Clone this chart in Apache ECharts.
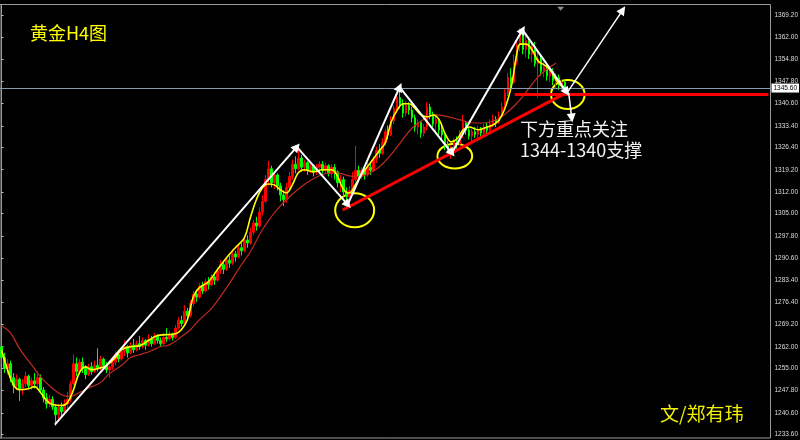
<!DOCTYPE html>
<html><head><meta charset="utf-8">
<script src="https://cdn.jsdelivr.net/npm/echarts@6/dist/echarts.min.js"></script>
<style>html,body{margin:0;padding:0;background:#000;}#c{width:800px;height:440px;}</style>
</head><body><div id="c"></div>
<script>
// [open, close, low, high]
const candles = [
[1262.0,1258.5,1257.0,1263.5],[1258.5,1255.0,1253.5,1260.0],[1255.0,1256.5,1253.0,1258.0],[1256.5,1252.0,1250.5,1257.5],
[1252.0,1249.5,1247.0,1253.5],[1249.5,1251.5,1248.0,1253.0],[1251.5,1248.5,1244.5,1252.0],[1248.5,1250.0,1246.5,1251.5],
[1250.0,1252.5,1249.0,1254.0],[1252.5,1249.5,1248.5,1253.0],[1249.5,1251.0,1248.0,1252.0],[1251.0,1250.0,1248.5,1253.5],
[1250.0,1252.0,1249.0,1254.0],[1252.0,1248.0,1247.0,1253.0],[1248.0,1245.5,1244.0,1249.0],[1245.5,1243.5,1242.0,1247.0],
[1243.5,1245.0,1242.5,1246.5],[1245.0,1242.5,1241.5,1246.0],[1242.5,1240.0,1236.5,1243.5],[1240.0,1242.5,1238.5,1243.5],
[1242.5,1241.0,1239.5,1244.0],[1241.0,1243.5,1240.0,1245.0],[1243.5,1245.0,1242.0,1247.5],[1245.0,1250.0,1244.0,1251.0],
[1250.0,1256.5,1249.5,1259.5],[1256.5,1254.0,1252.5,1258.5],[1254.0,1257.0,1253.0,1258.0],[1257.0,1255.0,1253.5,1258.5],
[1255.0,1253.0,1251.5,1256.0],[1253.0,1255.5,1252.5,1256.5],[1255.5,1254.0,1253.0,1257.0],[1254.0,1256.0,1253.5,1257.5],
[1256.0,1255.0,1254.0,1261.5],[1255.0,1258.0,1254.5,1259.0],[1258.0,1256.0,1254.5,1258.5],[1256.0,1254.5,1253.5,1257.0],
[1254.5,1255.5,1252.0,1256.0],[1255.5,1257.0,1254.5,1258.0],[1257.0,1259.5,1256.0,1260.5],[1259.5,1258.0,1257.0,1261.0],
[1258.0,1260.5,1257.5,1261.5],[1260.5,1262.0,1259.0,1264.0],[1262.0,1260.0,1258.5,1262.5],[1260.0,1262.5,1259.5,1263.5],
[1262.5,1261.0,1260.0,1264.5],[1261.0,1263.0,1260.5,1264.0],[1263.0,1262.0,1261.0,1265.5],[1262.0,1264.0,1261.5,1265.0],
[1264.0,1262.5,1261.0,1264.5],[1262.5,1264.5,1262.0,1266.0],[1264.5,1263.0,1262.0,1265.5],[1263.0,1265.5,1262.5,1266.5],
[1265.5,1264.0,1263.0,1266.0],[1264.0,1263.0,1262.0,1265.0],[1263.0,1265.0,1262.5,1266.5],[1265.0,1264.5,1263.5,1268.0],
[1264.5,1266.0,1264.0,1267.0],[1266.0,1265.0,1264.0,1266.5],[1265.0,1268.0,1264.5,1269.0],[1268.0,1270.5,1267.5,1271.5],
[1270.5,1269.5,1268.5,1272.0],[1269.5,1273.5,1269.0,1275.5],[1273.5,1272.0,1270.5,1274.5],[1272.0,1276.0,1271.5,1277.0],
[1276.0,1279.0,1275.0,1280.0],[1279.0,1278.0,1276.5,1280.5],[1278.0,1281.5,1277.5,1282.5],[1281.5,1280.0,1279.0,1283.0],
[1280.0,1283.0,1279.5,1284.0],[1283.0,1282.0,1280.5,1284.5],[1282.0,1284.5,1281.5,1285.5],[1284.5,1283.5,1282.0,1286.0],
[1283.5,1286.5,1283.0,1287.5],[1286.5,1288.5,1285.5,1290.0],[1288.5,1287.0,1285.5,1289.5],[1287.0,1290.0,1286.5,1291.0],
[1290.0,1289.0,1287.5,1291.5],[1289.0,1292.0,1288.5,1293.5],[1292.0,1291.0,1289.5,1293.0],[1291.0,1294.0,1290.5,1295.0],
[1294.0,1293.0,1291.5,1295.5],[1293.0,1296.5,1292.5,1297.5],[1296.5,1295.5,1294.0,1298.0],[1295.5,1299.0,1295.0,1300.5],
[1299.0,1302.0,1298.0,1303.0],[1302.0,1301.0,1299.5,1304.0],[1301.0,1305.5,1300.5,1307.0],[1305.5,1309.0,1304.5,1311.0],
[1309.0,1316.0,1308.5,1317.5],[1316.0,1319.5,1314.0,1322.0],[1319.5,1315.0,1313.5,1320.5],[1315.0,1317.5,1313.0,1318.5],
[1317.5,1314.0,1312.5,1318.0],[1314.0,1311.0,1309.0,1315.0],[1311.0,1309.5,1307.5,1312.5],[1309.5,1313.5,1308.5,1315.0],
[1313.5,1317.0,1312.5,1318.5],[1317.0,1321.0,1316.0,1322.5],[1321.0,1319.5,1318.0,1323.5],[1319.5,1323.0,1319.0,1326.5],
[1323.0,1320.0,1318.5,1324.0],[1320.0,1321.5,1318.5,1322.5],[1321.5,1319.0,1317.5,1322.0],[1319.0,1320.5,1318.0,1321.5],
[1320.5,1318.5,1317.0,1321.0],[1318.5,1320.0,1317.5,1321.0],[1320.0,1321.0,1318.5,1322.0],[1321.0,1319.0,1318.0,1322.0],
[1319.0,1320.5,1318.0,1321.5],[1320.5,1318.0,1317.0,1321.0],[1318.0,1320.0,1316.5,1321.0],[1320.0,1318.5,1316.0,1321.0],
[1318.5,1315.0,1313.5,1319.0],[1315.0,1316.0,1312.0,1317.5],[1316.0,1312.0,1310.5,1317.0],[1312.0,1310.5,1307.0,1313.5],
[1310.5,1312.5,1309.0,1314.0],[1312.5,1316.0,1311.5,1318.5],[1316.0,1319.0,1315.0,1327.0],[1319.0,1317.0,1315.5,1320.5],
[1317.0,1319.0,1316.0,1320.0],[1319.0,1317.5,1316.0,1320.5],[1317.5,1320.0,1317.0,1321.5],[1320.0,1319.0,1317.5,1321.5],
[1319.0,1322.5,1318.5,1323.5],[1322.5,1325.5,1321.5,1326.5],[1325.5,1324.5,1323.0,1327.5],[1324.5,1328.0,1324.0,1329.5],
[1328.0,1331.5,1327.0,1332.5],[1331.5,1330.5,1329.0,1333.5],[1330.5,1335.0,1330.0,1336.5],[1335.0,1339.0,1334.0,1340.0],
[1339.0,1342.5,1337.5,1344.0],[1342.5,1340.5,1339.0,1345.8],[1340.5,1337.5,1336.0,1342.0],[1337.5,1340.0,1336.5,1341.5],
[1340.0,1338.5,1337.0,1341.0],[1338.5,1336.0,1334.5,1339.5],[1336.0,1333.0,1331.5,1337.0],[1333.0,1334.5,1330.5,1335.5],
[1334.5,1331.0,1329.5,1335.0],[1331.0,1333.0,1330.0,1334.0],[1333.0,1339.5,1332.0,1341.0],[1339.5,1337.0,1335.5,1340.5],
[1337.0,1334.0,1333.0,1338.0],[1334.0,1335.5,1331.5,1336.5],[1335.5,1332.0,1330.5,1336.0],[1332.0,1330.5,1329.0,1333.5],
[1330.5,1327.0,1325.5,1331.0],[1327.0,1324.5,1323.5,1328.5],[1324.5,1326.0,1322.7,1327.0],[1326.0,1328.5,1325.0,1329.5],
[1328.5,1327.5,1326.0,1330.0],[1327.5,1330.5,1327.0,1332.0],[1330.5,1334.5,1329.5,1337.0],[1334.5,1332.0,1330.5,1335.0],
[1332.0,1330.0,1329.0,1333.0],[1330.0,1331.5,1328.5,1332.5],[1331.5,1330.5,1329.5,1333.0],[1330.5,1332.0,1329.0,1333.5],
[1332.0,1331.0,1329.5,1333.0],[1331.0,1333.0,1330.0,1334.0],[1333.0,1332.0,1330.5,1334.5],[1332.0,1334.0,1331.5,1335.5],
[1334.0,1335.5,1333.0,1337.0],[1335.5,1334.5,1333.0,1336.5],[1334.5,1336.5,1334.0,1338.0],[1336.5,1339.5,1336.0,1341.0],
[1339.5,1344.0,1339.0,1345.5],[1344.0,1349.0,1343.0,1350.5],[1349.0,1347.5,1345.5,1352.0],[1347.5,1354.0,1347.0,1356.5],
[1354.0,1359.5,1353.0,1361.0],[1359.5,1363.0,1357.5,1365.0],[1363.0,1358.0,1356.5,1364.5],[1358.0,1361.0,1355.5,1362.5],
[1361.0,1356.5,1355.0,1362.0],[1356.5,1359.0,1354.0,1360.0],[1359.0,1353.5,1352.5,1360.5],[1353.5,1355.0,1342.5,1357.0],
[1355.0,1351.0,1349.5,1356.5],[1351.0,1352.5,1349.0,1354.0],[1352.5,1349.5,1348.0,1353.5],[1349.5,1351.0,1347.5,1352.5],
[1351.0,1348.0,1346.5,1352.0],[1348.0,1349.0,1345.5,1350.5],[1349.0,1346.5,1345.0,1350.0],[1346.5,1347.5,1345.0,1348.5],
[1347.5,1345.6,1344.5,1348.0]
];
// fast moving average: [bar index, price]
const maFast = [
[0,1261.0],[2,1254.6],[4,1249.7],[6,1248.1],[9,1248.4],[11,1249.1],[13,1247.2],[15,1244.6],[17,1243.3],[20,1243.0],
[22,1243.9],[24,1248.1],[26,1253.6],[28,1255.5],[30,1254.6],[32,1254.9],[35,1255.9],[38,1258.5],[40,1261.0],[43,1262.0],
[46,1262.3],[49,1264.0],[52,1265.6],[55,1265.9],[58,1266.2],[60,1267.5],[62,1270.7],[64,1278.2],[66,1281.1],[69,1283.0],
[72,1286.9],[75,1290.7],[78,1294.0],[81,1297.2],[83,1303.7],[85,1309.5],[87,1313.3],[89,1314.6],[91,1314.3],[93,1312.7],
[95,1311.7],[97,1314.3],[99,1318.2],[101,1319.2],[104,1318.5],[107,1319.2],[110,1319.2],[112,1317.2],[114,1313.0],[116,1311.7],
[118,1314.3],[120,1317.5],[123,1321.4],[126,1325.3],[128,1327.9],[130,1334.7],[132,1338.5],[134,1340.5],[136,1340.5],[138,1338.9],
[140,1336.9],[142,1336.3],[144,1336.9],[146,1335.3],[148,1330.8],[150,1328.2],[152,1329.2],[154,1332.1],[156,1333.0],[159,1332.1],
[162,1333.0],[164,1333.7],[166,1335.3],[168,1339.2],[170,1345.9],[171,1351.4],[172,1357.3],[173,1359.8],[175,1359.8],[177,1357.9],
[179,1354.3],[181,1353.1],[183,1351.4],[185,1348.2],[187,1346.0],[188,1345.0]
];
// slow moving average: [bar index, price]
const maSlow = [
[0,1268.8],[3,1266.5],[6,1261.4],[10,1256.2],[13,1252.3],[16,1249.4],[20,1246.5],[23,1245.9],[26,1247.2],[30,1249.1],
[33,1250.4],[36,1253.3],[40,1255.9],[43,1258.5],[46,1259.4],[50,1260.7],[53,1262.0],[56,1262.6],[60,1265.2],[63,1267.5],
[66,1270.7],[70,1274.3],[73,1278.2],[76,1282.4],[80,1288.5],[83,1292.7],[87,1299.8],[90,1304.0],[93,1307.5],[96,1310.4],
[100,1313.7],[104,1316.3],[108,1317.9],[112,1318.2],[116,1317.2],[119,1316.9],[123,1318.2],[126,1320.1],[129,1323.0],[133,1327.9],
[137,1332.7],[141,1335.6],[145,1336.9],[149,1336.3],[153,1335.3],[157,1334.3],[161,1334.3],[165,1335.3],[168,1337.2],[171,1339.8],
[174,1343.0],[177,1346.9],[180,1350.2],[183,1352.4],[185,1353.7]
];
const yTickLabels = [1369.2,1362.0,1354.8,1347.8,1340.6,1333.4,1326.4,1319.2,1312.0,1305.0,1297.8,1290.6,1283.4,1276.4,1269.2,1262.0,1255.0,1247.8,1240.6,1233.6];
const lastPrice = 1345.6;
const supportLine = [[171.2,1343.7],[255.8,1343.7]];
const trendLine = [[113.8,1306.2],[188.8,1344.3]];
const arrows = [
[[17.8,1236.8],[98.5,1326.6]],
[[98.5,1326.6],[115.5,1307.9]],
[[115.5,1307.9],[132.8,1345.9]],
[[132.8,1345.9],[150.2,1324.6]],
[[150.2,1324.6],[173.8,1364.4]],
[[173.8,1364.4],[188.5,1344.3]],
[[188.8,1344.3],[207.2,1370.8]],
[[189.2,1344.0],[190.2,1335.9]]
];
// [center index, center price, radius in bars, radius in price]
const circles = [[117.8,1306.1,6.5,5.5],[151.2,1323.6,5.8,4.0],[188.9,1343.5,5.6,4.7]];
const shiftMarker = [186.5,1371.2];
const titleText = '黄金H4图';
const noteLine1 = '下方重点关注';
const noteLine2 = '1344-1340支撑';
const authorText = '文/郑有玮';
const slotCount = 257;

const categories = [];
for (let i = 0; i < slotCount; i++) categories.push(String(i));

const chart = echarts.init(document.getElementById('c'), null, {renderer: 'canvas'});
const cjk = '"Noto Sans CJK SC", "Noto Sans", sans-serif';
chart.setOption({
  backgroundColor: '#000000',
  animation: false,
  grid: {left: 0, right: 29.5, top: 4.5, bottom: 2, show: true, borderColor: '#9a9a9a', borderWidth: 1, outerBoundsMode: 'none', containLabel: false},
  xAxis: [
    {type: 'category', data: categories, boundaryGap: true, show: false},
    {type: 'value', min: -0.5, max: slotCount - 0.5, show: false}
  ],
  yAxis: {
    type: 'value', position: 'right', min: 1232.5, max: 1372.6, scale: true,
    splitLine: {show: false},
    axisLine: {show: true, lineStyle: {color: '#9a9a9a', width: 1}},
    axisTick: {show: true, length: 2, customValues: yTickLabels, lineStyle: {color: '#c8c8c8'}},
    axisLabel: {customValues: yTickLabels, formatter: v => Number(v).toFixed(2), color: '#dcdcdc', fontSize: 6.5, margin: 4, fontFamily: '"Liberation Sans", Arial, sans-serif'}
  },
  graphic: [
    {type: 'text', left: 30, top: 24, style: {text: titleText, fill: '#ffff00', font: '18px ' + cjk}},
    {type: 'text', left: 520, top: 120, style: {text: noteLine1, fill: '#f2f2f2', font: '18px ' + cjk}},
    {type: 'text', left: 520, top: 141, style: {text: noteLine2, fill: '#f2f2f2', font: '18px ' + cjk}},
    {type: 'text', left: 660, top: 404, style: {text: authorText, fill: '#f0f000', font: '19px ' + cjk}}
  ],
  series: [
    {
      type: 'candlestick', data: candles, barWidth: 2,
      itemStyle: {color: '#ff0000', color0: '#00ff00', borderColor: '#ff0000', borderColor0: '#00ff00', borderWidth: 1},
      silent: true,
      markLine: {
        silent: true, symbol: 'none',
        lineStyle: {color: '#8a9aaa', width: 1, type: 'solid'},
        label: {show: true, position: 'end', distance: 1, formatter: p => Number(p.value).toFixed(2),
          backgroundColor: '#ffffff', color: '#000000', fontSize: 6.5, padding: [1, 2, 1, 2], fontFamily: '"Liberation Sans", Arial, sans-serif'},
        data: [{yAxis: lastPrice}]
      }
    },
    {type: 'line', xAxisIndex: 1, data: maSlow, smooth: 0.4, symbol: 'none', silent: true,
      lineStyle: {color: '#c02a24', width: 1.2}},
    {type: 'line', xAxisIndex: 1, data: maFast, smooth: 0.4, symbol: 'none', silent: true,
      lineStyle: {color: '#ffff00', width: 1.6}},
    {type: 'line', xAxisIndex: 1, data: [], silent: true,
      markLine: {silent: true, symbol: 'none', label: {show: false},
        lineStyle: {color: '#ff0000', width: 3, type: 'solid'},
        data: [
          [{coord: trendLine[0]}, {coord: trendLine[1]}],
          [{coord: supportLine[0]}, {coord: supportLine[1]}]
        ]}
    },
    {type: 'line', xAxisIndex: 1, data: [], silent: true,
      markLine: {silent: true, symbol: ['none', 'triangle'], symbolSize: 9, label: {show: false},
        lineStyle: {color: '#ffffff', width: 2, type: 'solid'},
        data: arrows.map((a, k) => [{coord: a[0], lineStyle: {width: k >= 6 ? 1.5 : 2}}, {coord: a[1]}])},
      markPoint: {silent: true, symbol: 'triangle', symbolRotate: 180, symbolSize: [7, 4], label: {show: false},
        itemStyle: {color: '#8a8a8a'}, data: [{coord: shiftMarker}]}
    },
    {type: 'custom', xAxisIndex: 1, data: circles, silent: true, encode: {x: 0, y: 1},
      renderItem: (params, api) => {
        const c = api.coord([api.value(0), api.value(1)]);
        const s = api.size([api.value(2), api.value(3)]);
        return {type: 'ellipse', shape: {cx: c[0], cy: c[1], rx: s[0], ry: s[1]},
          style: {fill: 'none', stroke: '#ffff00', lineWidth: 2}};
      }}
  ]
});
</script></body></html>
